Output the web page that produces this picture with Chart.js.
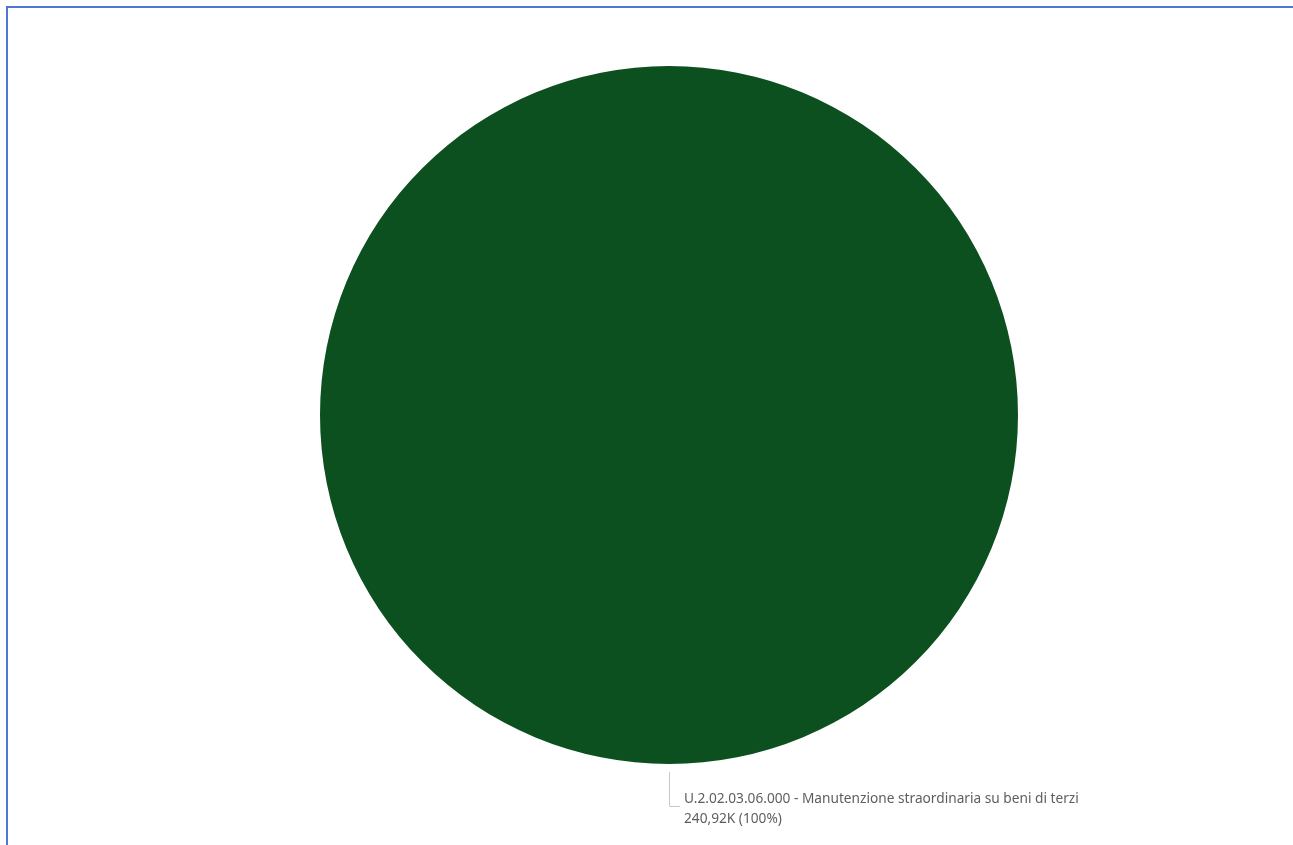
<!DOCTYPE html>
<html>
<head>
<meta charset="utf-8">
<script src="https://cdn.jsdelivr.net/npm/chart.js@4.4.1/dist/chart.umd.min.js"></script>
<style>
  html, body { margin: 0; padding: 0; background: #fff; overflow: hidden; }
  #frame {
    position: absolute; left: 6px; top: 6px; width: 1400px; height: 1000px;
    border-left: 2px solid #4e79d2; border-top: 2px solid #4e79d2;
  }
  #wrap { position: absolute; left: 0; top: 0; width: 1293px; height: 845px; }
</style>
</head>
<body>
<div id="frame"></div>
<div id="wrap"><canvas id="pie" width="1293" height="845"></canvas></div>
<script>
const categories = ["U.2.02.03.06.000 - Manutenzione straordinaria su beni di terzi"];
const amounts = [240920];
const sliceColors = ["#0c5020"];

// formato italiano: 240,92K
function fmtK(v) {
    return (v / 1000).toFixed(2).replace(".", ",") + "K";
}

const leaderLabels = {
    id: "leaderLabels",
    afterDraw(chart) {
        const ctx = chart.ctx;
        const meta = chart.getDatasetMeta(0);
        const total = amounts.reduce((a, b) => a + b, 0);
        meta.data.forEach((arc, i) => {
            const p = arc.getProps(["x", "y", "startAngle", "endAngle", "outerRadius"], true);
            const mid = (p.startAngle + p.endAngle) / 2;
            const sx = p.x + Math.cos(mid) * (p.outerRadius + 8);
            const sy = p.y + Math.sin(mid) * (p.outerRadius + 8);
            const ey = sy + 34;
            ctx.save();
            ctx.strokeStyle = "#c8c8c8";
            ctx.lineWidth = 1;
            ctx.beginPath();
            ctx.moveTo(Math.round(sx) + 0.5, sy);
            ctx.lineTo(Math.round(sx) + 0.5, ey + 0.5);
            ctx.lineTo(Math.round(sx) + 11, ey + 0.5);
            ctx.stroke();
            ctx.fillStyle = "#605e5c";
            ctx.font = "13.7px 'Noto Sans', sans-serif";
            ctx.textBaseline = "middle";
            const pct = Math.round(amounts[i] / total * 100);
            ctx.fillText(categories[i], sx + 15, ey - 7);
            ctx.fillText(fmtK(amounts[i]) + " (" + pct + "%)", sx + 15, ey + 13);
            ctx.restore();
        });
    }
};

new Chart(document.getElementById("pie"), {
    type: "pie",
    data: {
        labels: categories,
        datasets: [{
            data: amounts,
            backgroundColor: sliceColors,
            borderWidth: 0
        }]
    },
    options: {
        responsive: false,
        animation: false,
        layout: { padding: { top: 66, bottom: 81, left: 320, right: 275 } },
        plugins: {
            legend: { display: false },
            tooltip: { enabled: false }
        }
    },
    plugins: [leaderLabels]
});
</script>
</body>
</html>
